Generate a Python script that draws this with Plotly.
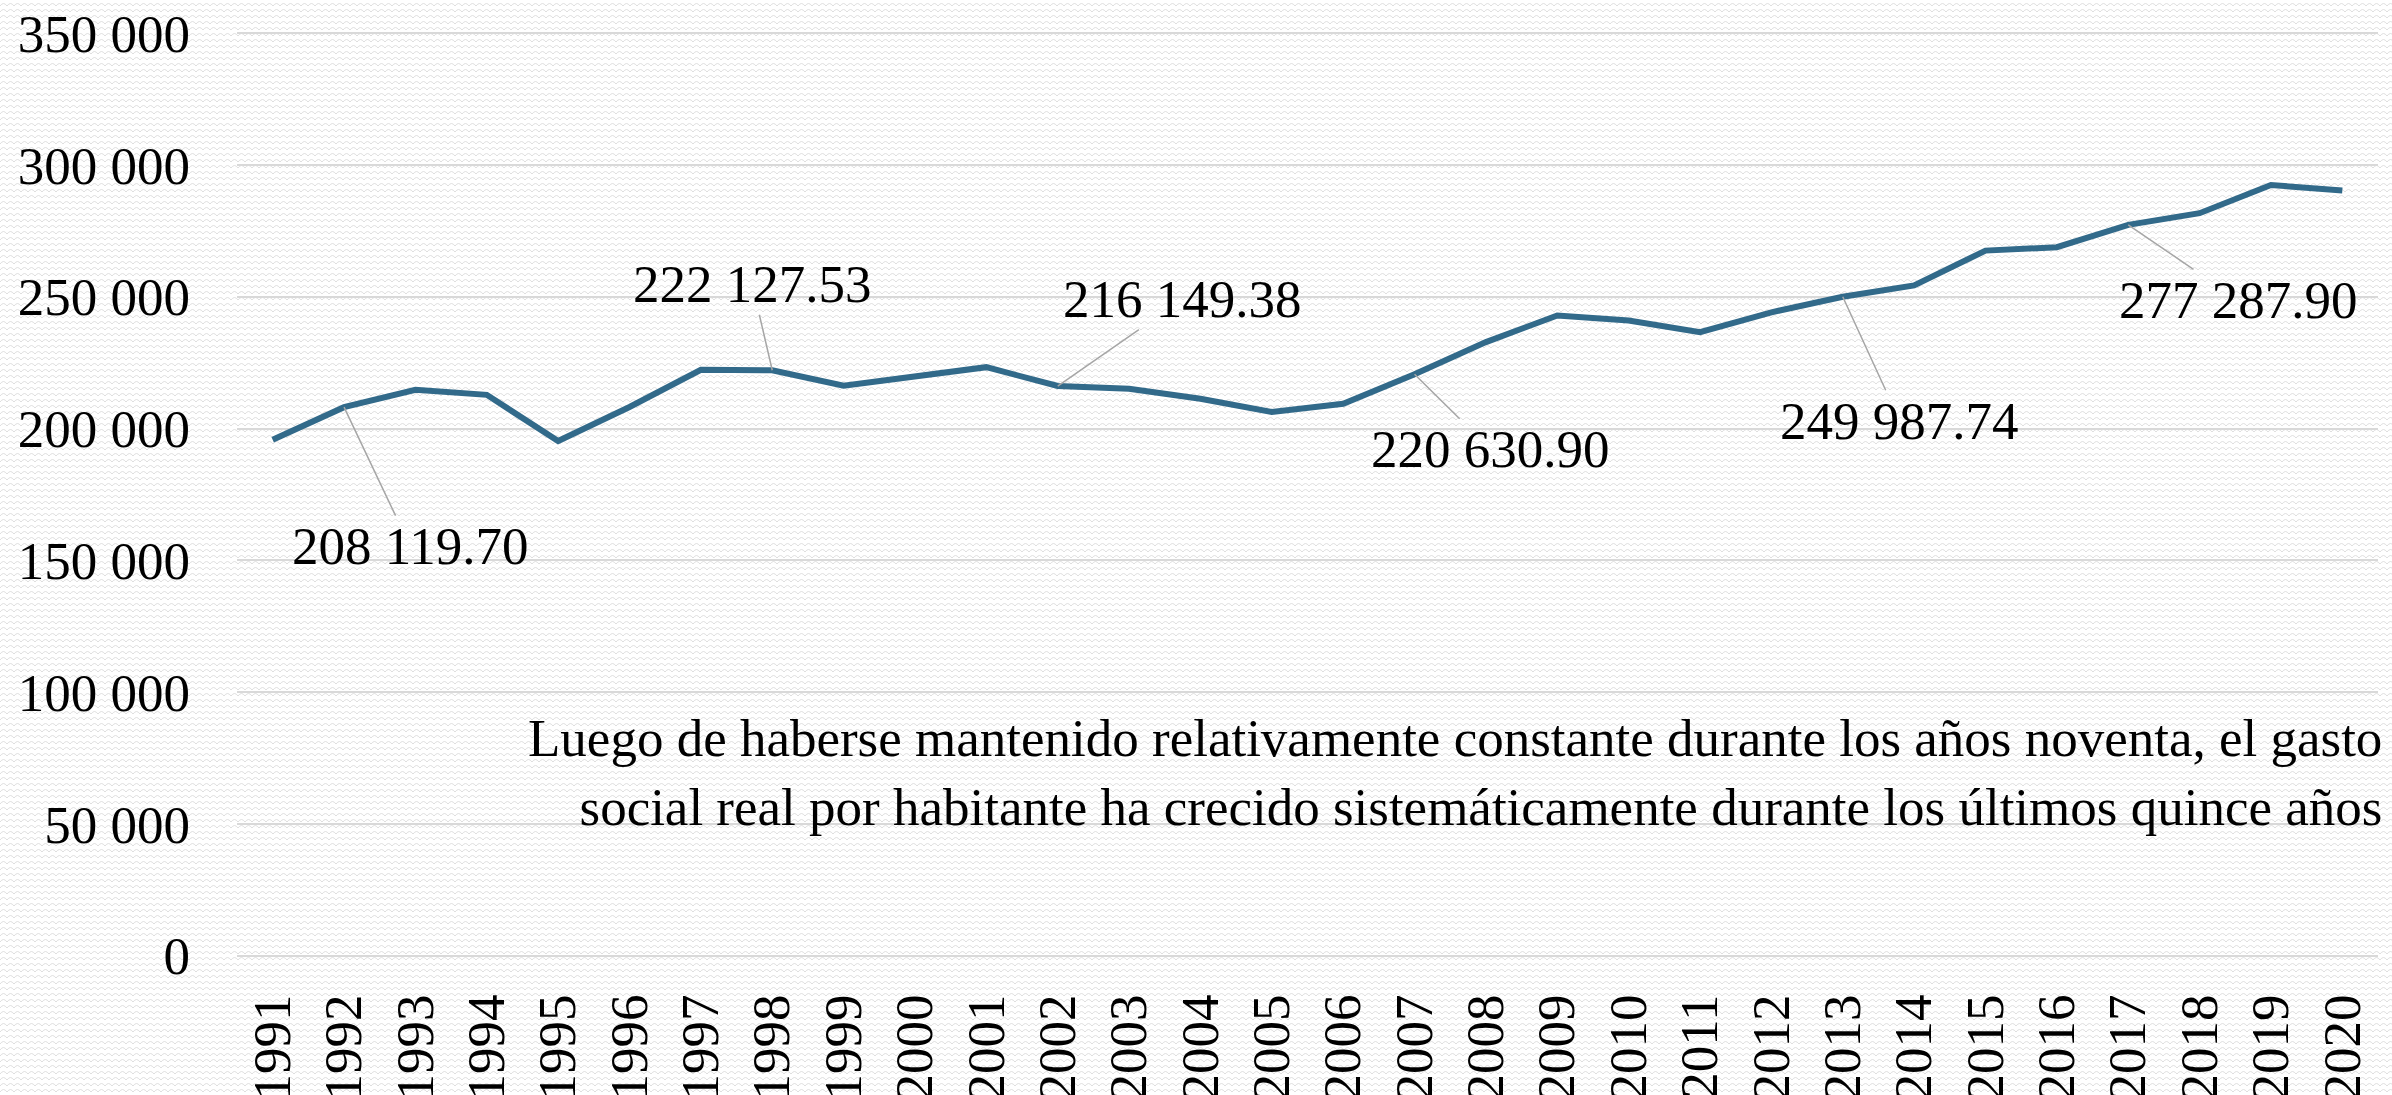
import base64
import plotly.graph_objects as go

# gasto social real por habitante, 1991-2020
years = [str(y) for y in range(1991, 2021)]
values = [
    195800, 208119.70, 214700, 212800, 195300, 208200, 222300, 222127.53, 216300, 219800,
    223300, 216149.38, 215100, 211300, 206300, 209400, 220630.90, 232800, 242900, 241000,
    236600, 244100, 249987.74, 254300, 267500, 268800, 277287.90, 281700, 292400, 290300,
]
# years that carry a value label, with label offsets (px) from the point
labelled = {
    "1992": (66, 139),
    "1998": (-20, -86),
    "2002": (125, -87),
    "2007": (76, 75),
    "2013": (57, 124),
    "2017": (110, 75),
}
note = ("Luego de haberse mantenido relativamente constante durante los años noventa, el gasto<br>"
        "social real por habitante ha crecido sistemáticamente durante los últimos quince años")

W, H = 2392, 1095
ML, MR, MT, MB = 237, 14, 31, 137
FONT = "Liberation Serif, Times New Roman, serif"

# faint woven background texture, like the original
svg = (
    f'<svg xmlns="http://www.w3.org/2000/svg" width="{W}" height="{H}" viewBox="0 0 {W} {H}">'
    '<defs><pattern id="p" width="14" height="12" patternUnits="userSpaceOnUse">'
    '<path d="M0,6 Q3.5,1 7,6 Q10.5,1 14,6 M-7,12 Q-3.5,7 0,12 Q3.5,7 7,12 Q10.5,7 14,12 Q17.5,7 21,12" '
    'fill="none" stroke="#dedede" stroke-width="1"/></pattern></defs>'
    f'<rect width="{W}" height="{H}" fill="white"/>'
    f'<rect width="{W}" height="{H}" fill="url(#p)"/></svg>'
)
bg_src = "data:image/svg+xml;base64," + base64.b64encode(svg.encode()).decode()

pw, ph = W - ML - MR, H - MT - MB

fig = go.Figure()
fig.add_trace(go.Scatter(
    x=years, y=values, mode="lines",
    line=dict(color="#326a8a", width=6),
    hoverinfo="x+y", showlegend=False,
))

for yr, (ax, ay) in labelled.items():
    i = years.index(yr)
    v = values[i]
    fig.add_annotation(
        x=i, y=v, ax=ax, ay=ay,
        text=f"{v:,.2f}".replace(",", " "),
        showarrow=True, arrowhead=0, arrowwidth=1.5, arrowcolor="#a6a6a6",
        font=dict(family=FONT, size=53, color="black"),
    )

fig.add_annotation(
    xref="paper", yref="paper", x=1.003, y=0.2,
    xanchor="right", yanchor="middle", align="right",
    text=note, showarrow=False,
    font=dict(family=FONT, size=53, color="black"),
)

fig.add_layout_image(
    source=bg_src, xref="paper", yref="paper",
    x=-ML / pw, y=1 + MT / ph, sizex=W / pw, sizey=H / ph,
    xanchor="left", yanchor="top", sizing="stretch", layer="below",
)

fig.update_xaxes(
    type="category", range=[-0.5, len(years) - 0.5], tickangle=-90,
    showgrid=False, showline=False, automargin=False,
    ticks="", ticklabelstandoff=25,
    tickfont=dict(family=FONT, size=53, color="black"),
)
fig.update_yaxes(
    range=[-800, 350800], tickvals=list(range(0, 350001, 50000)), tickformat=",d",
    showgrid=True, gridcolor="#d9d9d9", gridwidth=2, automargin=False,
    zeroline=False, showline=False, ticks="", ticklabelstandoff=46,
    tickfont=dict(family=FONT, size=53, color="black"),
)
fig.update_layout(
    width=W, height=H,
    margin=dict(l=ML, r=MR, t=MT, b=MB, pad=0),
    separators=". ",
    paper_bgcolor="white", plot_bgcolor="rgba(0,0,0,0)",
    font=dict(family=FONT, color="black"),
    showlegend=False,
)

# drop the browser's default body margin so the figure fills the window
fig.write_html("out.html", config={"displayModeBar": False},
               post_script="document.body.style.margin = '0';")
